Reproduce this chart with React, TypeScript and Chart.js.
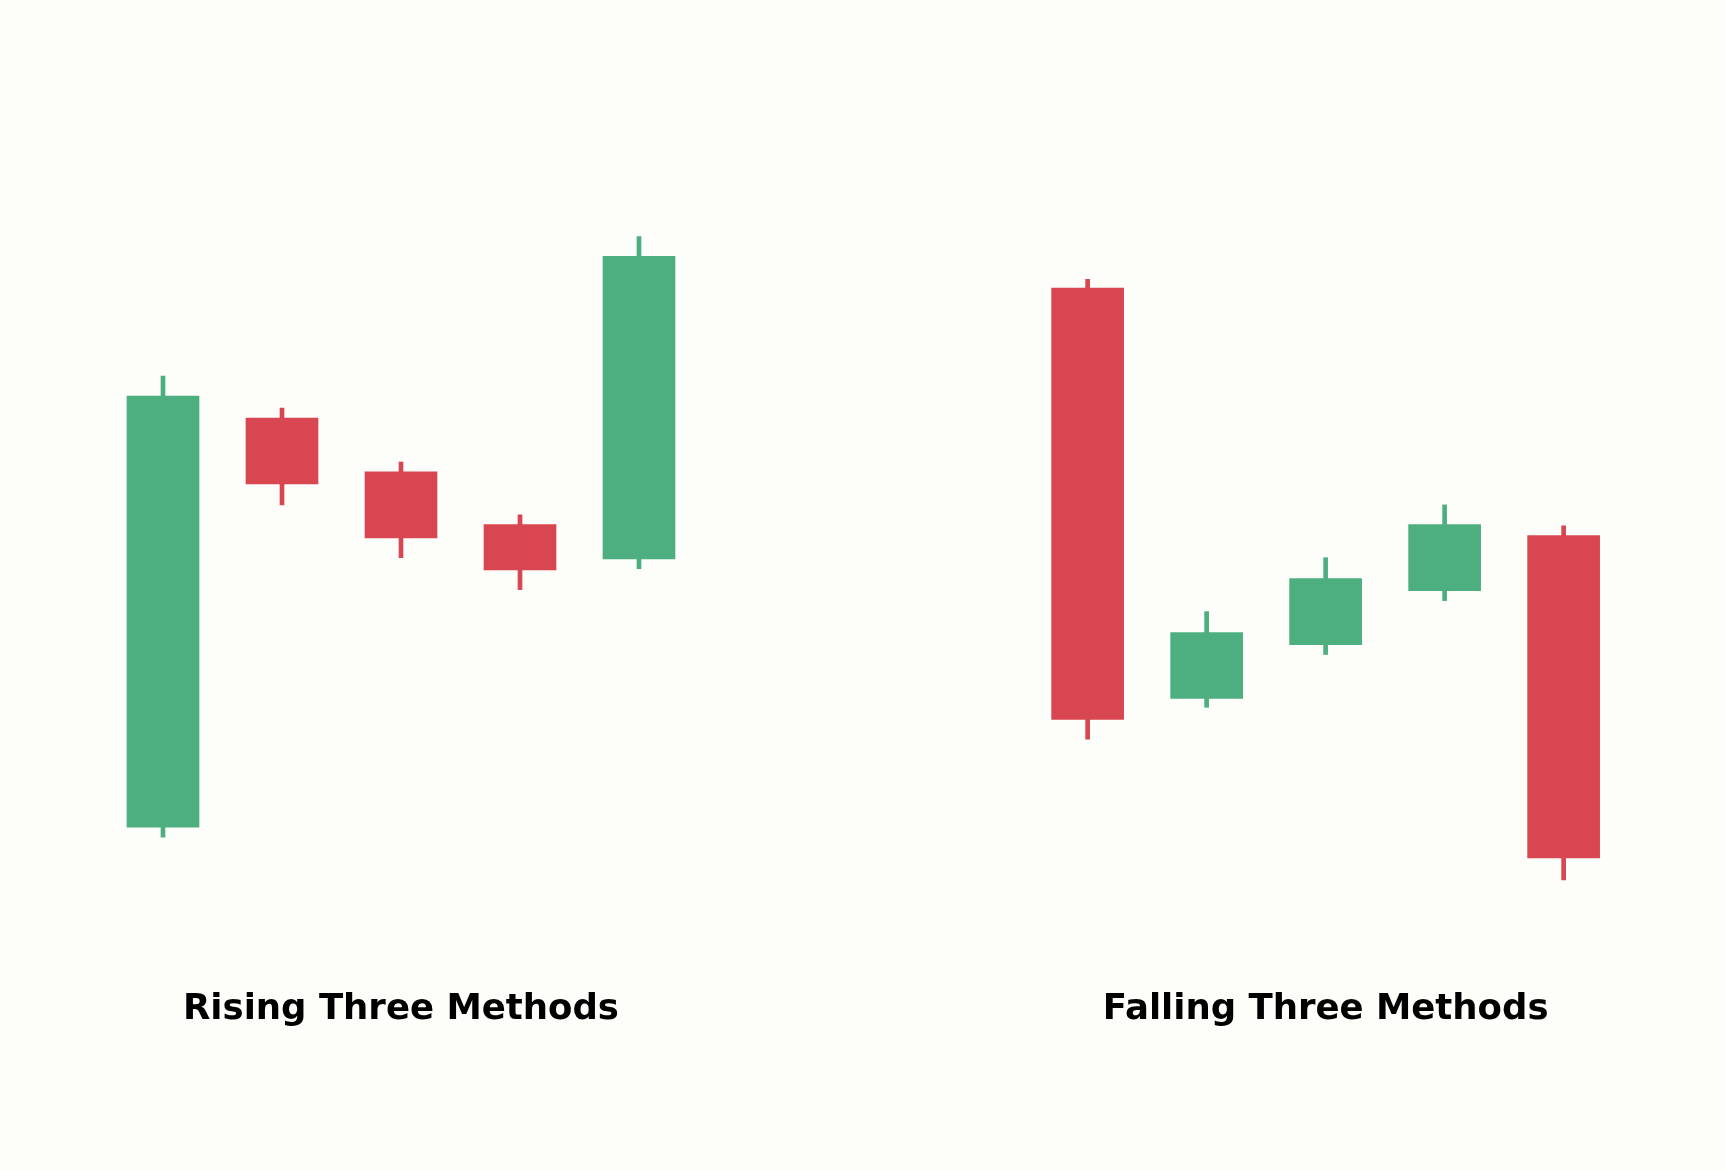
import { useEffect, useRef } from "react"
import { Chart, registerables } from "chart.js"

Chart.register(...registerables)

// two patterns, five candles each
const patternTitles = ["Rising Three Methods", "Falling Three Methods"]
const groupStart = [0, 7.77]

const risingOpen = [24.8, 62.0, 57.1, 52.3, 49.2]
const risingClose = [64.0, 56.0, 51.1, 48.2, 76.7]
const risingHigh = [65.8, 62.9, 58.0, 53.2, 78.5]
const risingLow = [23.9, 54.1, 49.3, 46.4, 48.3]

const fallingOpen = [73.8, 36.5, 41.4, 46.3, 51.3]
const fallingClose = [34.6, 42.5, 47.4, 52.3, 22.0]
const fallingHigh = [74.6, 44.4, 49.3, 54.1, 52.2]
const fallingLow = [32.8, 35.7, 40.5, 45.4, 20.0]

const UP = "#4daf7f"
const DOWN = "#d84652"
const BG = "#fdfdf9"

const groups = [
  { open: risingOpen, close: risingClose, high: risingHigh, low: risingLow },
  { open: fallingOpen, close: fallingClose, high: fallingHigh, low: fallingLow },
]

export default function App() {
  const canvasRef = useRef<HTMLCanvasElement>(null)
  const chartRef = useRef<Chart | null>(null)

  useEffect(() => {
    document.body.style.margin = "0"
    document.body.style.background = BG
    if (!canvasRef.current) return
    if (chartRef.current) chartRef.current.destroy()
    const ctx = canvasRef.current.getContext("2d")
    if (!ctx) return

    const bodies: any[] = []
    const wicks: any[] = []
    const colors: string[] = []
    groups.forEach((g, gi) => {
      g.open.forEach((o, i) => {
        const x = groupStart[gi] + i
        bodies.push({ x, y: [o, g.close[i]] })
        wicks.push({ x, y: [g.low[i], g.high[i]] })
        colors.push(g.close[i] >= o ? UP : DOWN)
      })
    })

    const background = {
      id: "bg",
      beforeDraw(chart: Chart) {
        const c = chart.ctx
        c.save()
        c.fillStyle = BG
        c.fillRect(0, 0, chart.width, chart.height)
        c.restore()
      },
    }

    // pattern names under each group
    const titles = {
      id: "titles",
      afterDraw(chart: Chart) {
        const c = chart.ctx
        const xs = chart.scales.x
        c.save()
        c.fillStyle = "#000"
        c.font = "bold 35.5px 'DejaVu Sans'"
        c.textAlign = "center"
        c.textBaseline = "alphabetic"
        patternTitles.forEach((t, gi) => {
          c.fillText(t, xs.getPixelForValue(groupStart[gi] + 2), 1019)
        })
        c.restore()
      },
    }

    chartRef.current = new Chart(ctx, {
      type: "bar",
      data: {
        datasets: [
          {
            data: bodies,
            backgroundColor: colors,
            borderWidth: 0,
            barThickness: 72,
            grouped: false,
          } as any,
          {
            data: wicks,
            backgroundColor: colors,
            borderWidth: 0,
            barThickness: 4,
            grouped: false,
          } as any,
        ],
      },
      options: {
        responsive: false,
        animation: false,
        layout: { padding: 0 },
        plugins: {
          legend: { display: false },
          tooltip: { enabled: false },
        },
        scales: {
          x: {
            type: "linear",
            display: false,
            offset: false,
            min: -163 / 119,
            max: (1725 - 163) / 119,
          },
          y: {
            display: false,
            min: 100 - 1170 / 11,
            max: 100,
          },
        },
      },
      plugins: [background, titles],
    })

    return () => {
      if (chartRef.current) {
        chartRef.current.destroy()
        chartRef.current = null
      }
    }
  }, [])

  return (
    <canvas
      ref={canvasRef}
      width={1725}
      height={1170}
      style={{ display: "block", width: 1725, height: 1170 }}
    />
  )
}
